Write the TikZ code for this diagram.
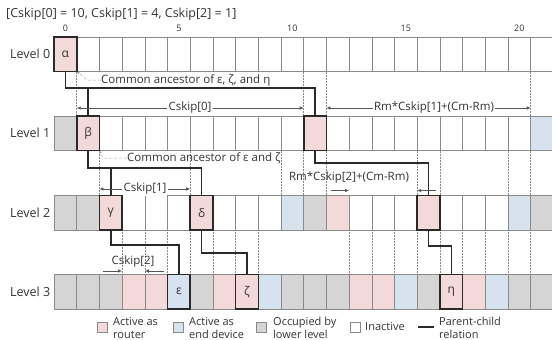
\documentclass[tikz,border=0pt]{standalone}
\usepackage{fontspec}
\setmainfont{Open Sans}
\usetikzlibrary{arrows.meta,calc}
\definecolor{cP}{HTML}{F3D9D9}
\definecolor{cB}{HTML}{D7E2EF}
\definecolor{cG}{HTML}{D5D5D5}
\definecolor{cW}{HTML}{FFFFFF}
\definecolor{gridc}{HTML}{8A8A8A}
\definecolor{darkc}{HTML}{2A2A2A}
\definecolor{txtc}{HTML}{333333}
\begin{document}
\begin{tikzpicture}[x=1pt,y=-1pt,
  cell/.style={draw=gridc, line width=0.6pt, minimum width=22.7pt, minimum height=34.5pt, inner sep=0pt, outer sep=0pt},
  keycell/.style={draw=darkc, line width=1.6pt, minimum width=22.7pt, minimum height=34.5pt, inner sep=0pt, outer sep=0pt, font=\fontsize{12}{14}\selectfont, text=txtc},
  conn/.style={draw=darkc, line width=1.5pt},
  dotl/.style={draw=gridc, line width=0.5pt, densely dotted},
  dimline/.style={draw=darkc!80, line width=0.6pt, -{Latex[length=4pt,width=3.5pt]}},
  dimtext/.style={font=\fontsize{11.5}{13}\selectfont, text=txtc, inner sep=1pt, fill=white},
  lbl/.style={font=\fontsize{11.5}{13}\selectfont, text=txtc, inner sep=0pt},
  lvl/.style={font=\fontsize{12.5}{14}\selectfont, text=txtc, anchor=east, inner sep=0pt},
  idx/.style={font=\fontsize{9}{10}\selectfont, text=txtc, inner sep=0pt},
  leader/.style={draw=gray!70, line width=0.5pt, densely dashed, -{Latex[length=3pt,width=2.5pt]}},
  legbox/.style={draw=gridc, line width=0.6pt, minimum width=10pt, minimum height=10pt, inner sep=0pt},
  legtext/.style={font=\fontsize{11}{13.5}\selectfont, text=txtc, anchor=west, align=left, inner sep=0pt}
]
\useasboundingbox (0,0) rectangle (552,340);
\clip (0,0) rectangle (552,340);

% header
\node[lbl, anchor=west, font=\fontsize{12.5}{14}\selectfont] (hdr) at (6,14) {[Cskip[0] = 10, Cskip[1] = 4, Cskip[2] = 1]};

% rows of cells
\foreach \c [count=\k from 0] in {P,W,W,W,W,W,W,W,W,W,W,W,W,W,W,W,W,W,W,W,W,W}
  \node[cell, fill=c\c] (c0-\k) at ({54+22.7*(\k+0.5)},54.25) {};
\foreach \c [count=\k from 0] in {G,P,W,W,W,W,W,W,W,W,W,P,W,W,W,W,W,W,W,W,W,B}
  \node[cell, fill=c\c] (c1-\k) at ({54+22.7*(\k+0.5)},133.25) {};
\foreach \c [count=\k from 0] in {G,G,P,W,W,W,P,W,W,W,B,G,P,W,W,W,P,W,W,W,B,G}
  \node[cell, fill=c\c] (c2-\k) at ({54+22.7*(\k+0.5)},212.75) {};
\foreach \c [count=\k from 0] in {G,G,G,P,P,B,G,P,P,B,G,G,G,P,P,B,G,P,P,B,G,G}
  \node[cell, fill=c\c] (c3-\k) at ({54+22.7*(\k+0.5)},291.75) {};

% level labels
\node[lvl] (l0) at ($(c0-0.west)+(-3.5,0)$) {Level 0};
\node[lvl] (l1) at ($(c1-0.west)+(-3.5,0)$) {Level 1};
\node[lvl] (l2) at ($(c2-0.west)+(-3.5,0)$) {Level 2};
\node[lvl] (l3) at ($(c3-0.west)+(-3.5,0)$) {Level 3};

% index labels
\foreach \k in {0,5,10,15,20}
  \node[idx] (i\k) at ($(c0-\k.north)+(0,-8.5)$) {\k};

% dotted guide lines
\foreach \k in {1,11,12,21}
  \draw[dotl] (c0-\k.south west) -- (c1-\k.north west);
\foreach \k in {2,6,10,11,12,16,17,20,21}
  \draw[dotl] (c1-\k.south west) -- (c2-\k.north west);
\foreach \k in {3,4,5,6,7,8,9,13,14,15,16,17,18,19,20,21}
  \draw[dotl] (c2-\k.south west) -- (c3-\k.north west);

% key nodes
\node[keycell, fill=cP] (alpha) at (c0-0) {α};
\node[keycell, fill=cP] (beta) at (c1-1) {β};
\node[keycell, fill=cP] (n11) at (c1-11) {};
\node[keycell, fill=cP] (gamma) at (c2-2) {γ};
\node[keycell, fill=cP] (delta) at (c2-6) {δ};
\node[keycell, fill=cP] (n16) at (c2-16) {};
\node[keycell, fill=cB] (eps) at (c3-5) {ε};
\node[keycell, fill=cP] (zeta) at (c3-8) {ζ};
\node[keycell, fill=cP] (eta) at (c3-17) {η};

% junction levels
\coordinate (j0) at (0,88);
\coordinate (j1) at (0,168);
\coordinate (j2) at (0,163);
\coordinate (j3) at (0,245);
\coordinate (j4) at (0,253);
\coordinate (j5) at (0,246);

% parent-child connectors
\draw[conn] (alpha.south) -- (alpha.south |- j0) -| (n11.north);
\draw[conn] (beta.north) -- (beta.north |- j0);
\draw[conn] (beta.south) -- (beta.south |- j1) -| (delta.north);
\draw[conn] (gamma.north) -- (gamma.north |- j1);
\draw[conn] (n11.south) -- (n11.south |- j2) -| (n16.north);
\draw[conn] (gamma.south) -- (gamma.south |- j3) -| (eps.north);
\draw[conn] (delta.south) -- (delta.south |- j4) -| (zeta.north);
\draw[conn] (n16.south) -- (n16.south |- j5) -| (eta.north);

% common ancestor labels
\node[lbl, anchor=west] (anc1) at (101,80) {Common ancestor of ε, ζ, and η};
\draw[leader] (anc1.west) -- ++(-14,0) -- (alpha.south east);
\node[lbl, anchor=west] (anc2) at (127,158) {Common ancestor of ε and ζ};
\draw[leader] (anc2.west) -- ++(-24,0) -- (beta.south east);

% dimension: Cskip[0]
\node[dimtext] (cs0) at (190,108) {Cskip[0]};
\draw[dimline] (cs0.west) -- (c0-1.south west |- cs0);
\draw[dimline] (cs0.east) -- (c0-11.south west |- cs0);
% dimension: Rm*Cskip[1]+(Cm-Rm)
\node[dimtext] (rc1) at (434,108) {Rm*Cskip[1]+(Cm-Rm)};
\draw[dimline] (rc1.west) -- (c0-12.south west |- rc1);
\draw[dimline] (rc1.east) -- (c0-21.south west |- rc1);
% dimension: Cskip[1]
\node[dimtext] (cs1) at (145,189) {Cskip[1]};
\draw[dimline] (cs1.west) -- (c1-2.south west |- cs1);
\draw[dimline] (cs1.east) -- (c1-6.south west |- cs1);
% dimension: Rm*Cskip[2]+(Cm-Rm)
\node[lbl] (rc2) at (349,178) {Rm*Cskip[2]+(Cm-Rm)};
\coordinate (y190) at (0,190.5);
\coordinate (a1s) at (331,190.5);
\coordinate (a2s) at (436,190.5);
\draw[dimline] (a1s) -- (c2-13.north west |- y190);
\draw[dimline] (a2s) -- (c2-16.north west |- y190);
% dimension: Cskip[2]
\node[lbl] (cs2) at (133,262) {Cskip[2]};
\coordinate (y271) at (0,271);
\coordinate (b1s) at (103,271);
\coordinate (b2s) at (164,271);
\draw[dimline] (b1s) -- (c2-3.south west |- y271);
\draw[dimline] (b2s) -- (c2-4.south west |- y271);

% legend
\node[legbox, fill=cP] (kp) at (102,327) {};
\node[legtext] (tp) at (113,328) {Active as\\router};
\node[legbox, fill=cB] (kb) at (178,327) {};
\node[legtext] (tb) at (189,328) {Active as\\end device};
\node[legbox, fill=cG] (kg) at (261.5,327) {};
\node[legtext] (tg) at (273,328) {Occupied by\\lower level};
\node[legbox, fill=cW] (kw) at (355,327) {};
\node[legtext] (tw) at (365,327) {Inactive};
\coordinate (kl1) at (418,327);
\coordinate (kl2) at (434,327);
\draw[conn] (kl1) -- (kl2);
\node[legtext] (tl) at (439,328) {Parent-child\\relation};
\end{tikzpicture}
\end{document}
